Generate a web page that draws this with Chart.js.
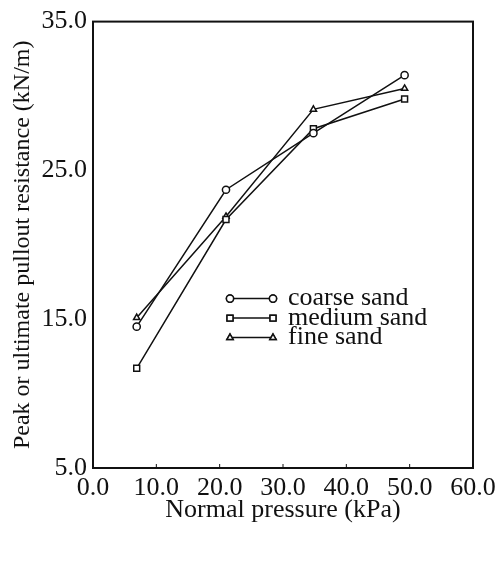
<!DOCTYPE html>
<html>
<head>
<meta charset="utf-8">
<script src="https://cdn.jsdelivr.net/npm/chart.js@4.4.1/dist/chart.umd.min.js"></script>
<style>
  body { margin: 0; background: #fff; }
  #wrap { width: 503px; height: 578px; }
</style>
</head>
<body>
<div id="wrap"><canvas id="pullout" width="503" height="578"></canvas></div>
<script>
const pressure = [6.9, 21.0, 34.8, 49.2];
const coarseSand = [14.5, 23.7, 27.5, 31.4];
const mediumSand = [11.7, 21.7, 27.8, 29.8];
const fineSand = [15.1, 21.9, 29.1, 30.5];
const xTicks = [0, 10, 20, 30, 40, 50, 60];
const yTicks = [5, 15, 25, 35];

const seriesNames = ['coarse sand', 'medium sand', 'fine sand'];
const seriesMarks = ['circle', 'rect', 'triangle'];

const serif = '"Liberation Serif", "Times New Roman", serif';

function toPoints(ys) {
  return pressure.map((x, i) => ({ x: x, y: ys[i] }));
}

function makeSet(label, ys, mark) {
  return {
    label: label,
    data: toPoints(ys),
    showLine: true,
    borderColor: '#111',
    borderWidth: 1.5,
    pointStyle: mark,
    pointRadius: mark === 'rect' ? 4.2 : 3.6,
    pointBorderWidth: 1.5,
    pointBackgroundColor: '#fff',
    pointBorderColor: '#111'
  };
}

// box around the plot, inward x ticks, legend inside the plot
const framePlugin = {
  id: 'frame',
  afterDraw(chart) {
    const c = chart.ctx;
    const a = chart.chartArea;
    const xs = chart.scales.x;
    c.save();
    c.strokeStyle = '#111';
    c.lineWidth = 2;
    c.strokeRect(a.left, a.top, a.right - a.left, a.bottom - a.top);
    c.lineWidth = 1;
    xTicks.forEach(v => {
      const px = xs.getPixelForValue(v);
      c.beginPath();
      c.moveTo(px, a.bottom);
      c.lineTo(px, a.bottom - 4);
      c.stroke();
    });

    // legend
    const lx = a.left + 137, ly = a.top + 277, gap = 19.5;
    c.font = '26px ' + serif;
    c.fillStyle = '#111';
    c.textBaseline = 'middle';
    seriesNames.forEach((name, i) => {
      const y = ly + i * gap;
      c.lineWidth = 1.5;
      c.beginPath();
      c.moveTo(lx, y);
      c.lineTo(lx + 43, y);
      c.stroke();
      [lx, lx + 43].forEach(px => {
        Chart.helpers.drawPoint(c, {
          pointStyle: seriesMarks[i],
          radius: seriesMarks[i] === 'rect' ? 4.2 : 3.6,
          borderWidth: 1.5
        }, px, y);
        c.fillStyle = '#fff';
        c.fill();
        c.stroke();
      });
      c.fillStyle = '#111';
      c.fillText(name, lx + 58, y);
    });
    c.restore();
  }
};

new Chart(document.getElementById('pullout'), {
  type: 'scatter',
  data: {
    datasets: [
      makeSet(seriesNames[0], coarseSand, seriesMarks[0]),
      makeSet(seriesNames[1], mediumSand, seriesMarks[1]),
      makeSet(seriesNames[2], fineSand, seriesMarks[2])
    ]
  },
  options: {
    responsive: false,
    animation: false,
    layout: { padding: { left: 8, top: 16, right: 30, bottom: 52 } },
    plugins: {
      legend: { display: false },
      tooltip: { enabled: false }
    },
    scales: {
      x: {
        type: 'linear',
        min: 0,
        max: 60,
        afterBuildTicks: s => { s.ticks = xTicks.map(v => ({ value: v })); },
        afterFit: s => { s.height = 58; },
        grid: { display: false, drawTicks: false },
        border: { display: false },
        ticks: {
          padding: 5,
          color: '#111',
          font: { family: serif, size: 26 },
          callback: v => v.toFixed(1)
        },
        title: {
          display: true,
          text: 'Normal pressure (kPa)',
          color: '#111',
          padding: { top: 0, bottom: 0 },
          font: { family: serif, size: 26 }
        }
      },
      y: {
        type: 'linear',
        min: 5,
        max: 35,
        afterBuildTicks: s => { s.ticks = yTicks.map(v => ({ value: v })); },
        afterFit: s => { s.width = 85; },
        grid: { display: false, drawTicks: false },
        border: { display: false },
        ticks: {
          padding: 6,
          color: '#111',
          font: { family: serif, size: 26 },
          callback: v => v.toFixed(1)
        },
        title: {
          display: true,
          text: 'Peak or ultimate pullout resistance (kN/m)',
          color: '#111',
          padding: { top: 0, bottom: 0 },
          font: { family: serif, size: 24 }
        }
      }
    }
  },
  plugins: [framePlugin]
});
</script>
</body>
</html>
